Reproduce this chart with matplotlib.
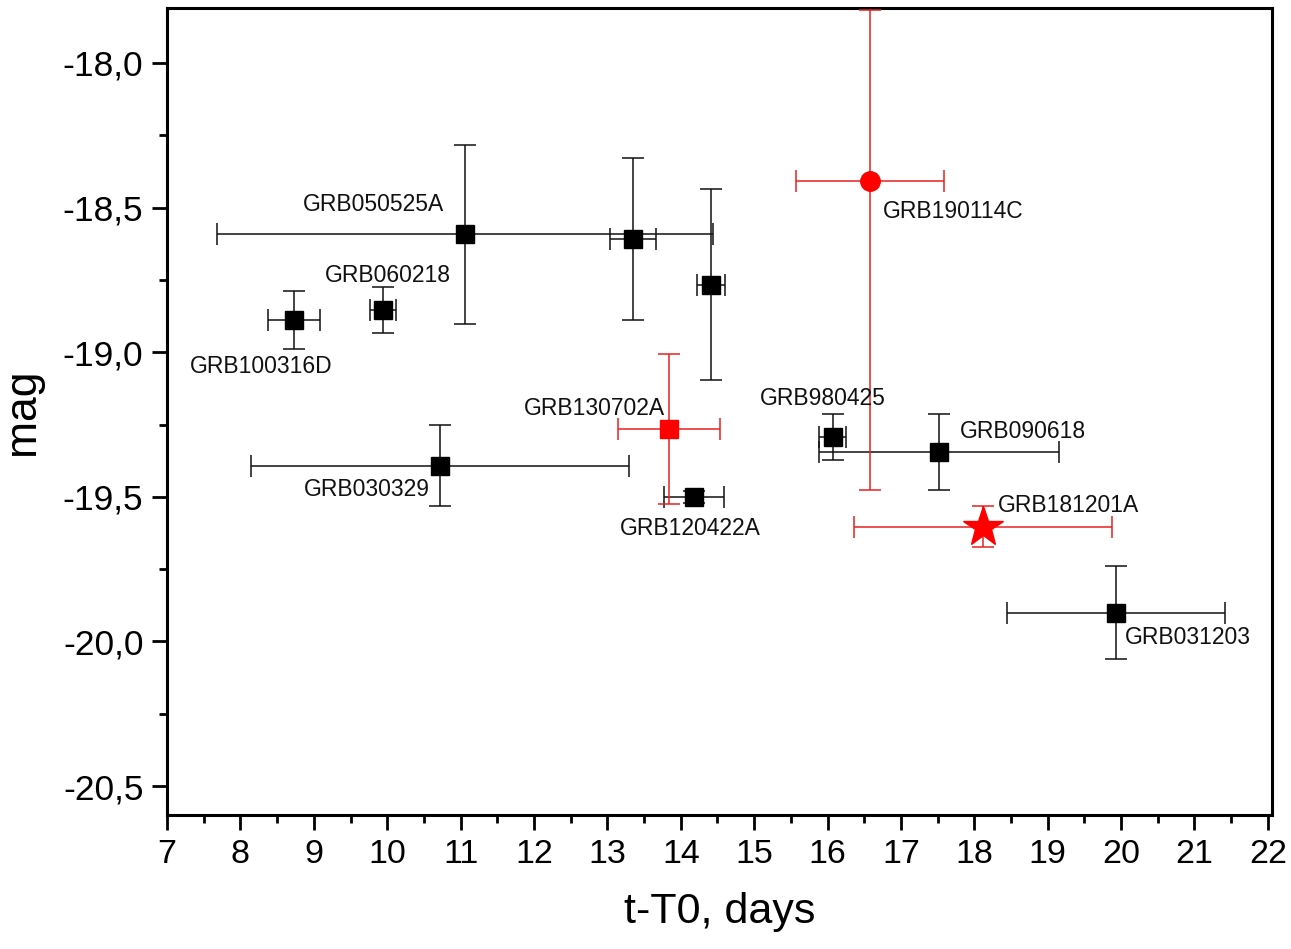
import matplotlib
matplotlib.use("Agg")
import matplotlib.pyplot as plt
from matplotlib.ticker import MultipleLocator, FuncFormatter

plt.rcParams['font.family'] = ['Liberation Sans', 'DejaVu Sans']

# Black squares (reference GRBs)
names_k = ["GRB100316D", "GRB060218", "GRB050525A", "", "", "GRB120422A",
           "GRB030329", "GRB980425", "GRB090618", "GRB031203"]
t_k = [8.73, 9.94, 11.06, 13.35, 14.41, 14.18, 10.72, 16.07, 17.52, 19.93]
m_k = [-18.89, -18.855, -18.593, -18.61, -18.766, -19.50, -19.393, -19.293, -19.345, -19.90]
terr_k = [0.36, 0.18, 3.38, 0.31, 0.19, 0.41, 2.57, 0.18, 1.63, 1.48]
merr_k = [0.10, 0.08, 0.31, 0.28, 0.33, 0.02, 0.14, 0.08, 0.13, 0.16]

# Red points
t_130702 = [13.84]; m_130702 = [-19.266]; terr_130702 = [0.69]; merr_130702 = [0.26]
t_190114 = [16.58]; m_190114 = [-18.407]; terr_190114 = [1.01]
merr_190114_lo = [1.07]; merr_190114_hi = [0.59]
t_181201 = [18.12]; m_181201 = [-19.603]; terr_181201 = [1.76]; merr_181201 = [0.07]

# label positions (data coords) and alignment
label_pos = {
    "GRB100316D": (8.28, -19.05, 'center'),
    "GRB060218": (10.01, -18.735, 'center'),
    "GRB050525A": (9.81, -18.49, 'center'),
    "GRB120422A": (14.13, -19.61, 'center'),
    "GRB030329": (9.72, -19.475, 'center'),
    "GRB980425": (15.93, -19.16, 'center'),
    "GRB090618": (18.66, -19.275, 'center'),
    "GRB031203": (20.05, -19.985, 'left'),
    "GRB130702A": (12.82, -19.195, 'center'),
    "GRB190114C": (16.75, -18.515, 'left'),
    "GRB181201A": (18.32, -19.53, 'left'),
}

fig = plt.figure(figsize=(12.91, 9.49), dpi=100)
ax = fig.add_axes([0.1294, 0.1412, 0.8555, 0.8504])

ax.errorbar(t_k, m_k, xerr=terr_k, yerr=merr_k, fmt='s', color='black',
            ms=13, ecolor='#111111', elinewidth=1.1, capsize=8, capthick=1.1, zorder=3)
ax.errorbar(t_130702, m_130702, xerr=terr_130702, yerr=merr_130702, fmt='s', color='#ff0000',
            ms=13, ecolor='#e82020', elinewidth=1.1, capsize=8, capthick=1.1, zorder=3)
ax.errorbar(t_190114, m_190114, xerr=terr_190114, yerr=[merr_190114_lo, merr_190114_hi],
            fmt='o', color='#ff0000', ms=14, ecolor='#e82020', elinewidth=1.1,
            capsize=8, capthick=1.1, zorder=3, clip_on=False)
ax.errorbar(t_181201, m_181201, xerr=terr_181201, yerr=merr_181201, fmt='*', color='#ff0000',
            ms=30, ecolor='#e82020', elinewidth=1.1, capsize=8, capthick=1.1, zorder=3)

for name, (x, y, ha) in label_pos.items():
    ax.text(x, y, name, fontsize=16.5, ha=ha, va='center', color='#111111')

ax.set_xlim(7, 22.05)
ax.set_ylim(-20.6, -17.81)
ax.xaxis.set_major_locator(MultipleLocator(1))
ax.xaxis.set_minor_locator(MultipleLocator(0.5))
ax.yaxis.set_major_locator(MultipleLocator(0.5))
ax.yaxis.set_minor_locator(MultipleLocator(0.25))
ax.yaxis.set_major_formatter(FuncFormatter(lambda v, p: f"{v:.1f}".replace('.', ',')))
ax.xaxis.set_major_formatter(FuncFormatter(lambda v, p: f"{int(round(v))}"))

ax.tick_params(which='major', direction='out', length=11, width=2, pad=6)
ax.tick_params(axis='y', which='major', labelsize=25.5)
ax.tick_params(axis='x', which='major', labelsize=24.5)
ax.tick_params(which='minor', direction='out', length=6, width=2)
ax.tick_params(top=False, right=False)
for s in ax.spines.values():
    s.set_linewidth(2.2)

ax.set_xlabel("t-T0, days", fontsize=31, labelpad=16)
ax.set_ylabel("mag", fontsize=32, labelpad=14)

fig.savefig("out.png", dpi=100)
